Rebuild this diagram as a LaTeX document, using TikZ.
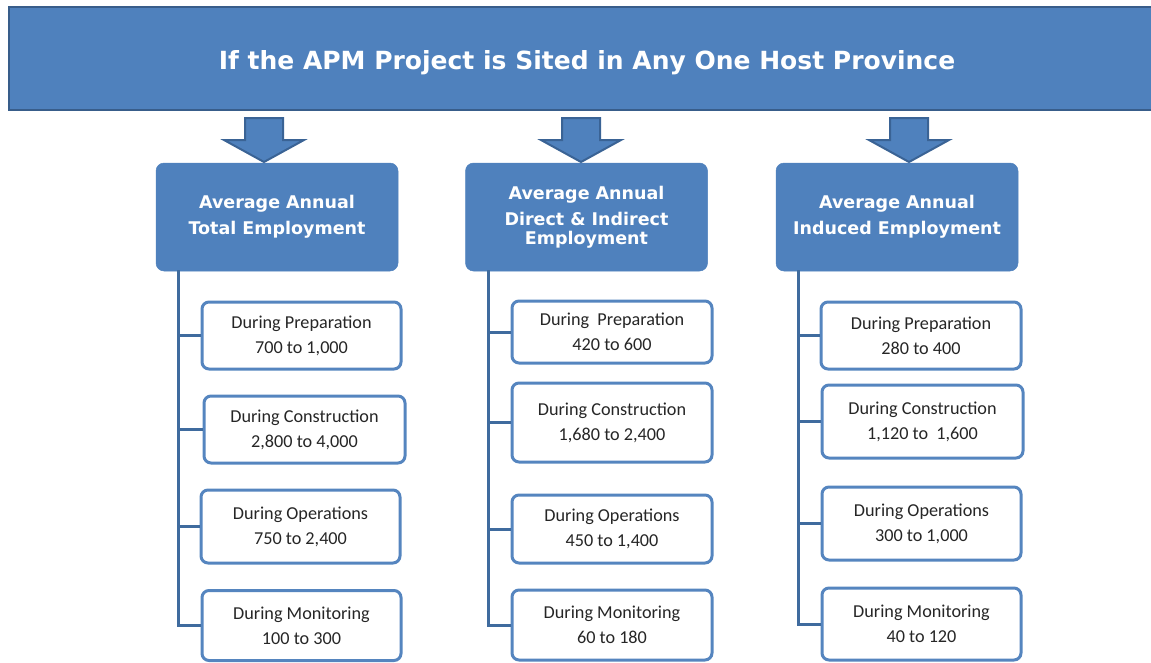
\documentclass[tikz,border=0pt]{standalone}
\usepackage{fontspec}
\setmainfont{Carlito}
\newfontfamily\hdrfont{DejaVu Sans}
\definecolor{bfill}{HTML}{4F81BD}
\definecolor{bdark}{HTML}{385D8A}
\definecolor{adark}{HTML}{3A6395}
\definecolor{sline}{HTML}{5585BF}
\definecolor{tline}{HTML}{3F6B9E}
\definecolor{txt}{HTML}{262626}
\tikzset{
  banner/.style={fill=bfill,draw=bdark,line width=2.5pt,minimum width=1156pt,minimum height=103pt,
    text=white,font=\hdrfont\bfseries\fontsize{25}{28}\selectfont,inner sep=0pt},
  hbox/.style={fill=bfill,draw=bfill,line width=0.5pt,rounded corners=8pt,minimum width=242pt,minimum height=108pt,
    text=white,font=\hdrfont\bfseries\fontsize{17.5}{26}\selectfont,align=center,inner sep=0pt},
  sbox/.style={fill=white,draw=sline,line width=3pt,rounded corners=7pt,minimum width=199pt,
    text=txt,font=\fontsize{18.2}{25}\selectfont,align=center,inner sep=0pt},
  barrow/.style={fill=bfill,draw=adark,line width=2pt,line join=miter},
  trunk/.style={draw=tline,line width=3pt}
}
\begin{document}
\begin{tikzpicture}[x=1pt,y=-1pt]
\path[use as bounding box,clip] (0,0) rectangle (1151,662);
\node[banner] (ban) at (587,58.5) {\raisebox{-11pt}[0pt][0pt]{If the APM Project is Sited in Any One Host Province}};

\node[hbox] (h1) at (277,217) {Average Annual\\Total Employment};
\node[hbox] (h2) at (586.5,217) {Average Annual\\Direct \& Indirect\\[-7pt]Employment};
\node[hbox] (h3) at (897,217) {Average Annual\\Induced Employment};

% block arrows
\foreach \cx/\h in {264/h1,581/h2,909/h3}{
  \draw[barrow] (\cx,162) -- ++(-40,-22) -- ++(21,0) -- ++(0,-22) -- ++(38,0) -- ++(0,22) -- ++(21,0) -- cycle;
}

% column 1
\node[sbox,minimum height=67pt] (p1) at (301.5,335.5) {During Preparation\\700 to 1,000};
\node[sbox,minimum height=67pt,minimum width=201pt] (c1) at (304.5,429.5) {During Construction\\2,800 to 4,000};
\node[sbox,minimum height=73pt] (o1) at (300.5,526.5) {During Operations\\750 to 2,400};
\node[sbox,minimum height=70pt] (m1) at (301.5,625.5) {During Monitoring\\100 to 300};
% column 2
\node[sbox,minimum height=62pt,minimum width=200pt] (p2) at (612,332) {During~ Preparation\\420 to 600};
\node[sbox,minimum height=79pt,minimum width=200pt] (c2) at (612,422.5) {During Construction\\1,680 to 2,400};
\node[sbox,minimum height=68pt,minimum width=200pt] (o2) at (612,529) {During Operations\\450 to 1,400};
\node[sbox,minimum height=70pt,minimum width=200pt] (m2) at (612,625) {During Monitoring\\60 to 180};
% column 3
\node[sbox,minimum height=67pt,minimum width=200pt] (p3) at (921,335.5) {During Preparation\\280 to 400};
\node[sbox,minimum height=73pt,minimum width=201pt] (c3) at (922.5,421.5) {During Construction\\1,120 to~ 1,600};
\node[sbox,minimum height=73pt] (o3) at (921.5,523.5) {During Operations\\300 to 1,000};
\node[sbox,minimum height=72pt] (m3) at (921.5,624) {During Monitoring\\40 to 120};

% trunks and branches
\foreach \h/\p/\c/\o/\m/\tx in {h1/p1/c1/o1/m1/178,h2/p2/c2/o2/m2/488,h3/p3/c3/o3/m3/798}{
  \coordinate (t-\h) at (\tx,270);
  \draw[trunk] (t-\h) |- (\m.west);
  \draw[trunk] (t-\h |- \p.west) -- (\p.west);
  \draw[trunk] (t-\h |- \c.west) -- (\c.west);
  \draw[trunk] (t-\h |- \o.west) -- (\o.west);
}
\end{tikzpicture}
\end{document}
